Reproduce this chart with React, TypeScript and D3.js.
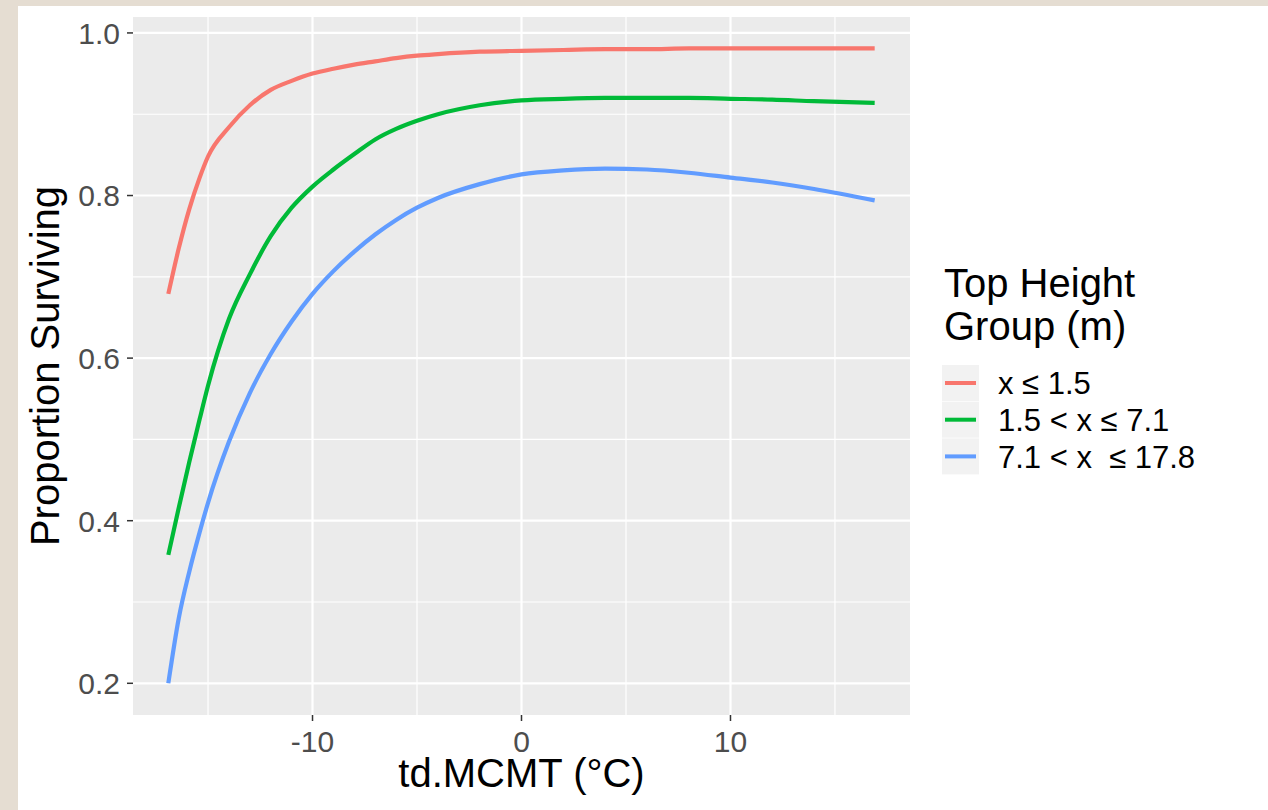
import * as d3 from 'd3';

const xVals = [-16.9, -16.4, -15.9, -15.4, -15, -14, -13, -12, -11, -10, -9, -8, -7, -6, -5, -4, -2, 0, 2, 4, 6, 8, 10, 12, 14, 16.9];
const lowGroup = [0.679, 0.735, 0.783, 0.822, 0.848, 0.884, 0.911, 0.93, 0.941, 0.95, 0.956, 0.961, 0.965, 0.969, 0.972, 0.974, 0.977, 0.978, 0.979, 0.98, 0.98, 0.981, 0.981, 0.981, 0.981, 0.981];
const midGroup = [0.358, 0.416, 0.472, 0.525, 0.566, 0.648, 0.703, 0.75, 0.785, 0.811, 0.832, 0.851, 0.869, 0.882, 0.892, 0.9, 0.911, 0.917, 0.919, 0.92, 0.92, 0.92, 0.919, 0.918, 0.916, 0.914];
const highGroup = [0.2, 0.28, 0.337, 0.386, 0.422, 0.497, 0.557, 0.605, 0.645, 0.679, 0.707, 0.731, 0.752, 0.77, 0.785, 0.797, 0.814, 0.826, 0.831, 0.833, 0.832, 0.828, 0.822, 0.816, 0.808, 0.794];

const groupLabels = ['x ≤ 1.5', '1.5 < x ≤ 7.1', '7.1 < x\u00a0 ≤ 17.8'];
const groupColors = ['#F8766D', '#00BA38', '#619CFF'];
const xTicks = [-10, 0, 10];
const xMinor = [-15, -5, 5, 15];
const yTicks = [0.2, 0.4, 0.6, 0.8, 1.0];
const yMinor = [0.3, 0.5, 0.7, 0.9];

const W = 1268;
const H = 810;
const panel = { left: 133, right: 910, top: 17, bottom: 715 };
const font = '"Liberation Sans", Arial, sans-serif';

export default function App() {
  const x = d3.scaleLinear().domain([-18.59, 18.59]).range([panel.left, panel.right]);
  const y = d3.scaleLinear().domain([0.161, 1.0196]).range([panel.bottom, panel.top]);

  const series = [lowGroup, midGroup, highGroup];
  const line = d3.line<number>()
    .x((_, i) => x(xVals[i]))
    .y(d => y(d))
    .curve(d3.curveMonotoneX);

  return (
    <div style={{ position: 'absolute', left: 0, top: 0 }}>
      <svg width={W} height={H} style={{ display: 'block', fontFamily: font }}>
        <rect x={0} y={0} width={W} height={H} fill="#e5ddd2" />
        <rect x={18} y={6} width={W - 18} height={H - 6} fill="#ffffff" />

        {/* panel */}
        <rect x={panel.left} y={panel.top} width={panel.right - panel.left} height={panel.bottom - panel.top} fill="#EBEBEB" />
        {xMinor.map(v => (
          <line key={'xm' + v} x1={x(v)} x2={x(v)} y1={panel.top} y2={panel.bottom} stroke="#fff" strokeWidth={1.2} />
        ))}
        {yMinor.map(v => (
          <line key={'ym' + v} x1={panel.left} x2={panel.right} y1={y(v)} y2={y(v)} stroke="#fff" strokeWidth={1.2} />
        ))}
        {xTicks.map(v => (
          <line key={'xg' + v} x1={x(v)} x2={x(v)} y1={panel.top} y2={panel.bottom} stroke="#fff" strokeWidth={2.2} />
        ))}
        {yTicks.map(v => (
          <line key={'yg' + v} x1={panel.left} x2={panel.right} y1={y(v)} y2={y(v)} stroke="#fff" strokeWidth={2.2} />
        ))}

        {series.map((s, i) => (
          <path key={i} d={line(s) ?? ''} fill="none" stroke={groupColors[i]} strokeWidth={4.2} strokeLinejoin="round" />
        ))}

        {/* x axis */}
        {xTicks.map(v => (
          <g key={'xt' + v}>
            <line x1={x(v)} x2={x(v)} y1={panel.bottom} y2={panel.bottom + 6} stroke="#333" strokeWidth={1.5} />
            <text x={x(v)} y={752} textAnchor="middle" fontSize={30} fill="#4D4D4D">{v}</text>
          </g>
        ))}
        <text x={(panel.left + panel.right) / 2} y={787} textAnchor="middle" fontSize={40} fill="#000">td.MCMT (°C)</text>

        {/* y axis */}
        {yTicks.map(v => (
          <g key={'yt' + v}>
            <line x1={panel.left - 6} x2={panel.left} y1={y(v)} y2={y(v)} stroke="#333" strokeWidth={1.5} />
            <text x={120} y={y(v)} dy="0.36em" textAnchor="end" fontSize={30} fill="#4D4D4D">{v.toFixed(1)}</text>
          </g>
        ))}
        <text transform={`translate(59,${(panel.top + panel.bottom) / 2}) rotate(-90)`} textAnchor="middle" fontSize={40} fill="#000">Proportion Surviving</text>

        {/* legend */}
        <text x={944} y={297} fontSize={40} fill="#000">Top Height</text>
        <text x={944} y={340} fontSize={40} fill="#000">Group (m)</text>
        {groupLabels.map((lab, i) => {
          const cy = 383 + i * 36.7;
          return (
            <g key={lab}>
              <rect x={942} y={cy - 18} width={37} height={36} fill="#F2F2F2" />
              <line x1={945} x2={976} y1={cy} y2={cy} stroke={groupColors[i]} strokeWidth={4} />
              <text x={998} y={cy} dy="0.36em" fontSize={31} fill="#000">{lab}</text>
            </g>
          );
        })}
      </svg>
    </div>
  );
}
